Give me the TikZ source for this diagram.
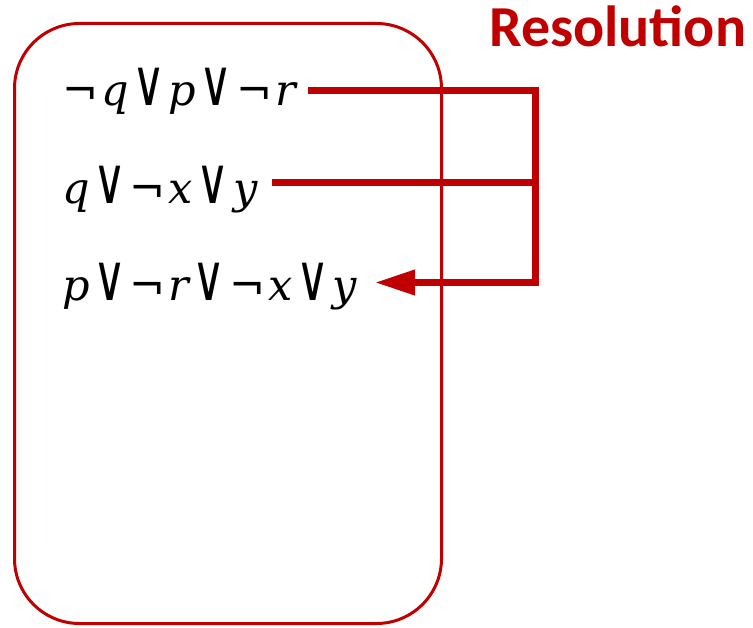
\documentclass[tikz,border=0pt]{standalone}
\usepackage{fontspec}
\setmainfont{DejaVu Serif}
\newfontfamily\headfont{Carlito}
\newfontfamily\opfont{DejaVu Sans}
\usetikzlibrary{arrows.meta,calc}
\definecolor{resred}{HTML}{C00000}
% logical symbols, with a little air on both sides
\newcommand{\myor}{\hspace{3.5pt}{\upshape\opfont\scalebox{1.05}[1.5]{\char"2228}}\hspace{3.5pt}}
\newcommand{\mynot}{{\upshape\opfont\char"00AC}\hspace{3pt}}
\tikzset{
  clause/.style={anchor=base west, inner sep=0pt, font=\fontsize{43}{50}\selectfont\itshape},
  frame/.style={draw=resred, line width=3pt, rounded corners=65pt},
  conn/.style={draw=resred, line width=7pt, line join=miter},
  title/.style={anchor=base west, inner sep=0pt, text=resred, font=\headfont\bfseries\fontsize{58}{66}\selectfont}
}
\begin{document}
\begin{tikzpicture}[x=1pt,y=-1pt]
  \useasboundingbox (0,0) rectangle (753,628);
  % clause set
  \draw[frame] (14.5,23.5) rectangle (441.5,623.5);
  \node[clause] (c1) at (62,106)   {\mynot q\myor p\myor\mynot r};
  \node[clause] (c2) at (62,203.5) {q\myor\mynot x\myor y};
  \node[clause] (c3) at (62,301)   {p\myor\mynot r\myor\mynot x\myor y};
  \node[title] (res) at (489,47) {Resolution};
  % resolution step
  \coordinate (s1) at (308,90.5);
  \coordinate (s2) at (272,183);
  \coordinate (j2) at (535.5,183);
  \coordinate (j3) at (535.5,282.5);
  \coordinate (t3) at (375,282.5);
  \draw[conn] (s1) -| (j3) -- ($(t3)+(30,0)$);
  \draw[conn] (s2) -- (j2);
  \draw[conn, -{Triangle[length=40pt,width=24pt]}] ($(t3)+(32,0)$) -- (t3);
\end{tikzpicture}
\end{document}
